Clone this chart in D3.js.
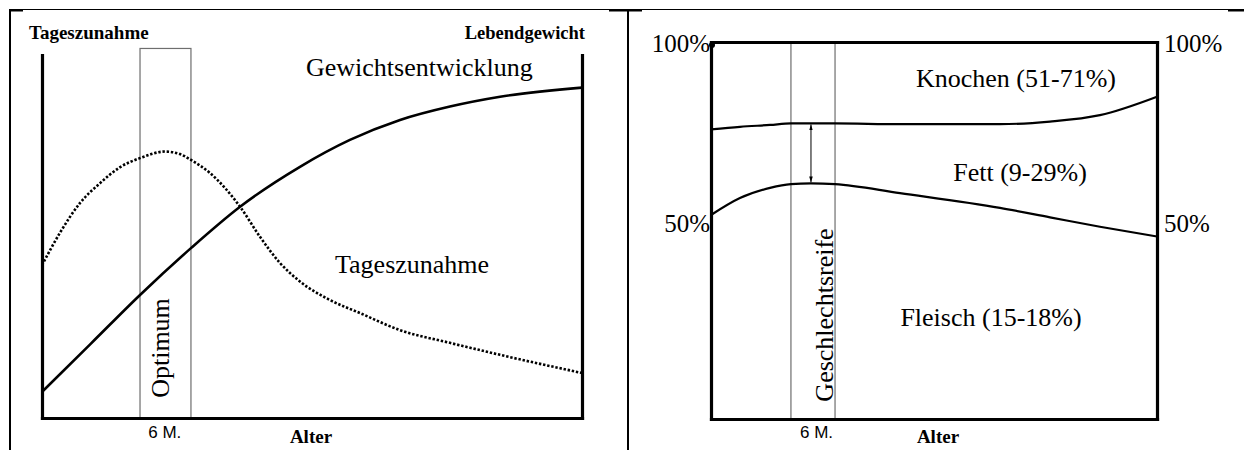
<!DOCTYPE html>
<html>
<head>
<meta charset="utf-8">
<script src="https://cdn.jsdelivr.net/npm/d3@7"></script>
<style>
  html, body { margin: 0; padding: 0; background: #fff; }
  svg { display: block; }
  .serif { font-family: "Liberation Serif", "Times New Roman", serif; }
  .sans { font-family: "Liberation Sans", Arial, sans-serif; }
</style>
</head>
<body>
<svg id="chart" width="1244" height="450"></svg>
<script>
// ---------------- DATA ----------------
// Left panel: Alter (Monate) vs. relative Werte
const ageMax = 26.5;
const gewichtMonths = [0, 2.4, 4.81, 7.31, 9.72, 12.66, 15.11, 17.57, 20.02, 22.48, 26.5];
const gewichtValues = [7.2, 20.5, 33.9, 46.8, 58.2, 69.2, 76.6, 82.1, 85.8, 88.5, 91.0];
const zunahmeMonths = [0, 0.88, 1.86, 2.85, 3.83, 4.81, 6.04, 6.77, 7.31, 8.24, 9.72, 10.70, 11.68, 12.66, 14.13, 15.61, 17.57, 20.02, 22.48, 26.5];
const zunahmeValues = [42.1, 51.0, 59.2, 64.7, 69.1, 71.6, 73.4, 72.7, 71.1, 67.5, 58.2, 49.9, 42.7, 37.6, 32.5, 28.9, 24.2, 20.7, 17.4, 12.4];
const optimumBand = [4.81, 7.31];
const optimumTop = 101.8;

// Right panel: Körperzusammensetzung (kumulierte %)
const koerperMonths = [0, 1.72, 3.51, 4.75, 5.94, 7.37, 11.23, 17.17, 20.14, 23.11, 26.5];
const grenzeKnochenFett = [76.8, 77.5, 78.0, 78.4, 78.4, 78.4, 78.2, 78.2, 78.9, 80.6, 85.5];
const grenzeFettFleisch = [54.1, 58.6, 61.3, 62.3, 62.5, 62.3, 59.9, 56.0, 53.5, 51.0, 48.4];
const reifeBand = [4.75, 7.37];
const arrowMonth = 5.94;
const arrowRange = [78.4, 62.5];

const xTickValues = [6];
const xTickLabel = "6 M.";
const yTickValues = [50, 100];
const yTickLabels = ["50%", "100%"];

// ---------------- SETUP ----------------
const svg = d3.select("#chart");
const black = "#000";
const grey = "#6e6e6e";

// table frame
svg.append("line").attr("x1", 9).attr("x2", 1244).attr("y1", 9.5).attr("y2", 9.5).attr("stroke", black).attr("stroke-width", 1);
[[9, 23], [609, 642], [1228, 1244]].forEach(s => {
  svg.append("line").attr("x1", s[0]).attr("x2", s[1]).attr("y1", 10.5).attr("y2", 10.5).attr("stroke", black).attr("stroke-width", 2);
});
svg.append("line").attr("x1", 10).attr("x2", 10).attr("y1", 9).attr("y2", 450).attr("stroke", black).attr("stroke-width", 2);
svg.append("line").attr("x1", 628).attr("x2", 628).attr("y1", 9).attr("y2", 450).attr("stroke", black).attr("stroke-width", 2);

// ---------------- LEFT PANEL ----------------
const xL = d3.scaleLinear().domain([0, ageMax]).range([42, 582]);
const yL = d3.scaleLinear().domain([0, 100]).range([418, 55]);

const gL = svg.append("g");

// Optimum band
gL.append("rect")
  .attr("x", xL(optimumBand[0])).attr("y", yL(optimumTop))
  .attr("width", xL(optimumBand[1]) - xL(optimumBand[0]))
  .attr("height", yL(0) - yL(optimumTop))
  .attr("fill", "none").attr("stroke", grey).attr("stroke-width", 1.2);

gL.append("text").attr("class", "serif")
  .attr("transform", `translate(${xL((optimumBand[0] + optimumBand[1]) / 2) + 4},${348}) rotate(-90)`)
  .attr("text-anchor", "middle").attr("font-size", 26).text("Optimum");

const lineL = (xs, ys) => d3.line().x((d, i) => xL(xs[i])).y((d, i) => yL(ys[i])).curve(d3.curveMonotoneX)(ys);

gL.append("path").attr("d", lineL(zunahmeMonths, zunahmeValues))
  .attr("fill", "none").attr("stroke", black).attr("stroke-width", 2.6).attr("stroke-dasharray", "2.4,1.8");
gL.append("path").attr("d", lineL(gewichtMonths, gewichtValues))
  .attr("fill", "none").attr("stroke", black).attr("stroke-width", 2.6);

// axes
const axL = gL.append("g").attr("transform", `translate(${xL(0)},0)`)
  .call(d3.axisLeft(yL).tickValues([]).tickSizeOuter(0));
const axR = gL.append("g").attr("transform", `translate(${xL(ageMax)},0)`)
  .call(d3.axisRight(yL).tickValues([]).tickSizeOuter(0));
const axB = gL.append("g").attr("transform", `translate(0,${yL(0)})`)
  .call(d3.axisBottom(xL).tickValues(xTickValues).tickFormat(() => xTickLabel).tickSize(0).tickSizeOuter(0).tickPadding(8));
[axL, axR, axB].forEach(a => a.select(".domain").attr("stroke", black).attr("stroke-width", 3.2).attr("stroke-linecap", "square"));
axB.selectAll("text").attr("class", "sans").attr("font-size", 17).attr("fill", black).attr("font-family", "Liberation Sans, Arial, sans-serif");

gL.append("text").attr("class", "serif").attr("x", 29).attr("y", 39)
  .attr("font-size", 19).attr("font-weight", "bold").text("Tageszunahme");
gL.append("text").attr("class", "serif").attr("x", 585).attr("y", 39).attr("text-anchor", "end")
  .attr("font-size", 18.5).attr("font-weight", "bold").text("Lebendgewicht");
gL.append("text").attr("class", "serif").attr("x", 311).attr("y", 443).attr("text-anchor", "middle")
  .attr("font-size", 19).attr("font-weight", "bold").text("Alter");
gL.append("text").attr("class", "serif").attr("x", 306).attr("y", 76)
  .attr("font-size", 26).text("Gewichtsentwicklung");
gL.append("text").attr("class", "serif").attr("x", 335).attr("y", 273)
  .attr("font-size", 26).text("Tageszunahme");

// ---------------- RIGHT PANEL ----------------
const xR = d3.scaleLinear().domain([0, ageMax]).range([711, 1157]);
const yR = d3.scaleLinear().domain([0, 100]).range([419, 42]);
const gR = svg.append("g");

// Geschlechtsreife band
reifeBand.forEach(m => {
  gR.append("line").attr("x1", xR(m)).attr("x2", xR(m)).attr("y1", yR(100)).attr("y2", yR(0))
    .attr("stroke", grey).attr("stroke-width", 1.2);
});
gR.append("text").attr("class", "serif")
  .attr("transform", `translate(${xR(reifeBand[1]) - 2},${315}) rotate(-90)`)
  .attr("text-anchor", "middle").attr("font-size", 26).text("Geschlechtsreife");

const lineR = (ys) => d3.line().x((d, i) => xR(koerperMonths[i])).y((d, i) => yR(ys[i])).curve(d3.curveMonotoneX)(ys);
gR.append("path").attr("d", lineR(grenzeKnochenFett)).attr("fill", "none").attr("stroke", black).attr("stroke-width", 2.2);
gR.append("path").attr("d", lineR(grenzeFettFleisch)).attr("fill", "none").attr("stroke", black).attr("stroke-width", 2.2);

// arrow
const defs = svg.append("defs");
["start", "end"].forEach(k => {
  defs.append("marker").attr("id", "arr-" + k).attr("viewBox", "0 0 10 10")
    .attr("refX", 10).attr("refY", 5).attr("markerWidth", 6).attr("markerHeight", 6)
    .attr("orient", k === "start" ? "auto-start-reverse" : "auto")
    .append("path").attr("d", "M0,2 L10,5 L0,8 Z").attr("fill", black);
});
gR.append("line").attr("x1", xR(arrowMonth)).attr("x2", xR(arrowMonth))
  .attr("y1", yR(arrowRange[0]) + 1).attr("y2", yR(arrowRange[1]) - 1)
  .attr("stroke", black).attr("stroke-width", 1)
  .attr("marker-start", "url(#arr-start)").attr("marker-end", "url(#arr-end)");

// box axes
const rAxL = gR.append("g").attr("transform", `translate(${xR(0)},0)`)
  .call(d3.axisLeft(yR).tickValues(yTickValues).tickFormat((d, i) => yTickLabels[i]).tickSize(0).tickSizeOuter(0).tickPadding(1));
const rAxR = gR.append("g").attr("transform", `translate(${xR(ageMax)},0)`)
  .call(d3.axisRight(yR).tickValues(yTickValues).tickFormat((d, i) => yTickLabels[i]).tickSize(0).tickSizeOuter(0).tickPadding(7));
const rAxB = gR.append("g").attr("transform", `translate(0,${yR(0)})`)
  .call(d3.axisBottom(xR).tickValues(xTickValues).tickFormat(() => xTickLabel).tickSize(0).tickSizeOuter(0).tickPadding(7));
const rAxT = gR.append("g").attr("transform", `translate(0,${yR(100)})`)
  .call(d3.axisTop(xR).tickValues([]).tickSizeOuter(0));
[rAxL, rAxR, rAxB, rAxT].forEach(a => a.select(".domain").attr("stroke", black).attr("stroke-width", 3.2).attr("stroke-linecap", "square"));
[rAxL, rAxR].forEach(a => a.selectAll(".tick text")
  .attr("font-family", "Liberation Serif, Times New Roman, serif").attr("font-size", 25).attr("fill", black)
  .attr("dy", d => d === 100 ? "0.38em" : "0.02em"));
rAxB.selectAll("text").attr("font-family", "Liberation Sans, Arial, sans-serif").attr("font-size", 17).attr("fill", black)
  .attr("dx", 4);

gR.append("circle").attr("cx", xR(0) + 1).attr("cy", yR(100) + 3).attr("r", 3).attr("fill", black);

gR.append("text").attr("class", "serif").attr("x", 1016).attr("y", 87).attr("text-anchor", "middle")
  .attr("font-size", 26).text("Knochen (51-71%)");
gR.append("text").attr("class", "serif").attr("x", 1020).attr("y", 181).attr("text-anchor", "middle")
  .attr("font-size", 26).text("Fett (9-29%)");
gR.append("text").attr("class", "serif").attr("x", 991).attr("y", 326).attr("text-anchor", "middle")
  .attr("font-size", 26).text("Fleisch (15-18%)");
gR.append("text").attr("class", "serif").attr("x", 938).attr("y", 443).attr("text-anchor", "middle")
  .attr("font-size", 19).attr("font-weight", "bold").text("Alter");
</script>
</body>
</html>
